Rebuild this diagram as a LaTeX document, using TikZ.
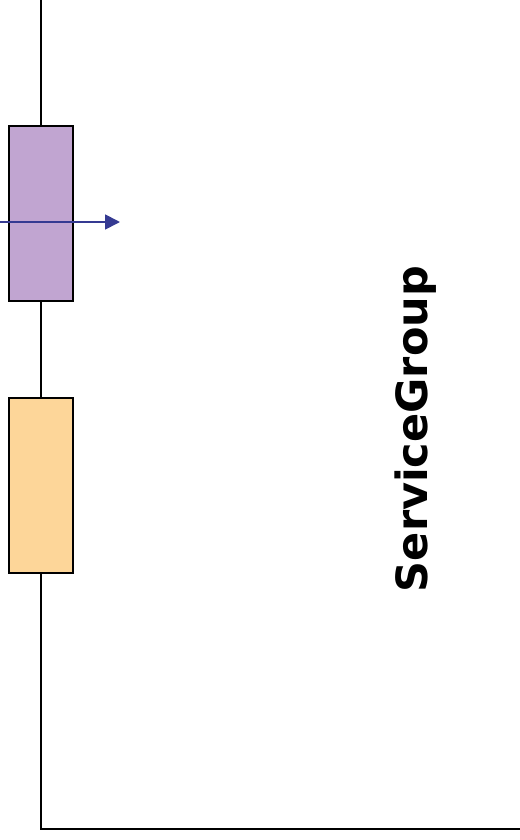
\documentclass[tikz,border=0pt]{standalone}
\usepackage{fontspec}
\newfontfamily\labelfont{DejaVu Sans}
\usetikzlibrary{arrows.meta}
\definecolor{purplefill}{HTML}{C1A5D1}
\definecolor{orangefill}{HTML}{FDD699}
\definecolor{arrowblue}{HTML}{353A92}
\tikzset{
  wire/.style={line width=2.8pt, black},
  block/.style={draw=black, line width=2.6pt, minimum width=64pt, minimum height=175pt, inner sep=0pt},
  signal/.style={arrowblue, line width=1.8pt, -{Triangle[length=15pt, width=15pt]}},
  title/.style={font=\labelfont\bfseries\fontsize{43}{43}\selectfont, rotate=90, inner sep=0pt}
}
\begin{document}
\begin{tikzpicture}[x=1pt,y=-1pt]
\useasboundingbox (0,0) rectangle (519,840);
\coordinate (top) at (41,0);
\coordinate (corner) at (41,829);
\coordinate (right) at (520,829);
\draw[wire] (top) -- (corner) -- (right);
\node[block, fill=purplefill] (svc) at (41,213.5) {};
\node[block, fill=orangefill] (grp) at (41,485.5) {};
\coordinate (in) at (0,222);
\coordinate (out) at (120,222);
\draw[signal] (in) -- (out);
\node[title] (lbl) at (416,429) {ServiceGroup};
\end{tikzpicture}
\end{document}
